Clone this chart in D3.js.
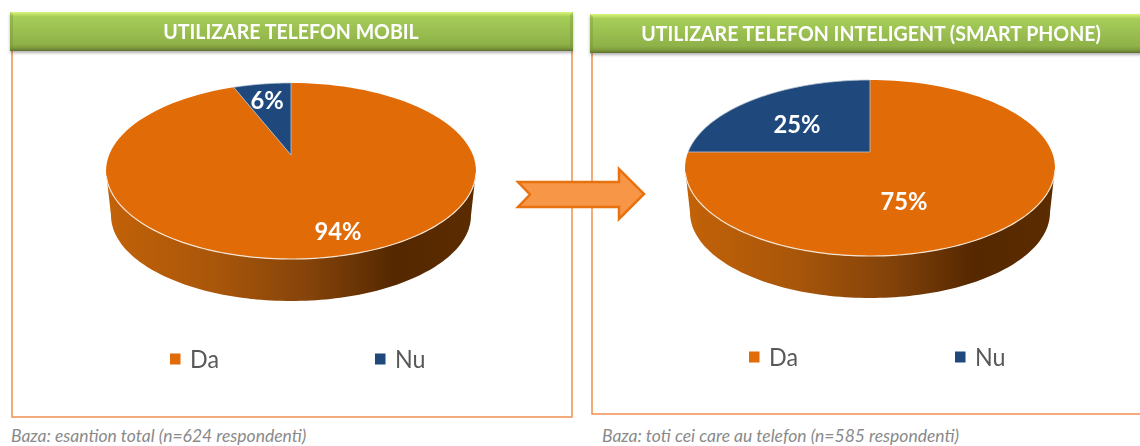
<!DOCTYPE html>
<html>
<head>
<meta charset="utf-8">
<script src="https://cdn.jsdelivr.net/npm/d3@7"></script>
<style>
  body { margin: 0; background: #fff; }
  text { font-family: Lato, "Open Sans", sans-serif; }
</style>
</head>
<body>
<div id="chart"></div>
<script>
// values
const categories = ["Da", "Nu"];
const mobileShares = [94, 6];
const smartShares = [75, 25];
const mobileTitle = "UTILIZARE TELEFON MOBIL";
const smartTitle = "UTILIZARE TELEFON INTELIGENT (SMART PHONE)";
const mobileNote = "Baza: esantion total (n=624 respondenti)";
const smartNote = "Baza: toti cei care au telefon (n=585 respondenti)";

const colors = d3.scaleOrdinal().domain(categories).range(["#e16b07", "#1f497d"]);

// layout of each panel, px
const panels = [
  {id: "mob", title: mobileTitle, note: mobileNote, shares: mobileShares,
   bar: [10, 12, 563, 39], frame: [12, 51, 572, 417], noteX: 11,
   cx: 291, apexY: 155, labels: [[338, 231], [267, 100]],
   legendY: 359, legendX: [170, 375]},
  {id: "smart", title: smartTitle, note: smartNote, shares: smartShares,
   bar: [590, 14, 560, 39], frame: [592, 53, 1160, 414], noteX: 602,
   cx: 870, apexY: 152, labels: [[904, 201], [797, 124]],
   legendY: 357, legendX: [749, 955]}
];

const svg = d3.select("#chart").append("svg")
    .attr("width", 1140)
    .attr("height", 446)
    .style("display", "block");

const defs = svg.append("defs");

const barGrad = defs.append("linearGradient").attr("id", "barGrad")
    .attr("x1", 0).attr("x2", 0).attr("y1", 0).attr("y2", 1);
barGrad.selectAll("stop")
    .data([[0, "#d9f57a"], [0.06, "#c0e268"], [0.12, "#a6cd58"], [0.82, "#8fb249"], [0.92, "#7f9c3d"], [1, "#5f7030"]])
    .join("stop")
    .attr("offset", d => d[0])
    .attr("stop-color", d => d[1]);

const shadow = defs.append("filter").attr("id", "barShadow")
    .attr("x", "-2%").attr("y", "-10%").attr("width", "104%").attr("height", "130%");
shadow.append("feDropShadow")
    .attr("dx", 0).attr("dy", 2).attr("stdDeviation", 1.5)
    .attr("flood-color", "#000").attr("flood-opacity", 0.3);

const soft = defs.append("filter").attr("id", "soft");
soft.append("feGaussianBlur").attr("stdDeviation", 0.35);

// perspective of the tilted disc: unit circle -> screen, relative to the apex
const pers = -0.1818, rxBase = 181.9, ryBase = 85.1;
function project(angle, scale) {
  const u = Math.sin(angle), v = -Math.cos(angle);
  const w = 1 + pers * v;
  return [scale * rxBase * u / w, scale * ryBase * v / w];
}

function arcPoints(a0, a1, scale) {
  return d3.range(0, 121).map(i => project(a0 + (a1 - a0) * i / 120, scale));
}

// Lato runs wider than the font in the picture, so narrow the glyphs a bit
function squeeze(sel, k) {
  sel.each(function() {
    d3.select(this)
        .attr("textLength", this.getComputedTextLength() * k)
        .attr("lengthAdjust", "spacingAndGlyphs");
  });
}

const line = d3.line();
const pie = d3.pie().sort(null);
const wallDrop = 44.8, wallScale = 0.973;

panels.forEach((p, idx) => {
  const g = svg.append("g").attr("class", "panel-" + p.id);
  const [fx0, fy0, fx1, fy1] = p.frame;

  g.append("path")
      .attr("d", `M${fx0},${fy0}V${fy1}H${fx1}V${fy0}`)
      .attr("fill", "none")
      .attr("stroke", "#ef9050")
      .attr("stroke-width", 1.5);

  const [bx, by, bw, bh] = p.bar;
  g.append("rect")
      .attr("x", bx).attr("y", by)
      .attr("width", bw).attr("height", bh)
      .attr("fill", "url(#barGrad)")
      .attr("filter", "url(#barShadow)");
  g.append("path")
      .attr("d", `M${bx},${by}l3,3v${bh - 6}l-3,3z`)
      .attr("fill", "#6f8f35").attr("opacity", 0.35);
  g.append("path")
      .attr("d", `M${bx + bw},${by}l-3,3v${bh - 6}l3,3z`)
      .attr("fill", "#6f8f35").attr("opacity", 0.35);
  g.append("text")
      .attr("x", p.cx + (idx ? 1 : 0))
      .attr("y", by + 19)
      .attr("dy", "0.35em")
      .attr("text-anchor", "middle")
      .attr("fill", "#fff")
      .attr("font-size", 21.5)
      .attr("font-weight", 700)
      .attr("filter", "url(#soft)")
      .text(p.title)
      .call(squeeze, 0.91);

  // side of the pie, gradient runs in page space
  const wallId = "wall" + idx;
  const wallGrad = defs.append("linearGradient").attr("id", wallId)
      .attr("gradientUnits", "userSpaceOnUse")
      .attr("x1", p.cx - 185).attr("x2", p.cx + 185).attr("y1", 0).attr("y2", 0);
  wallGrad.selectAll("stop")
      .data([[0, "#c36208"], [0.3, "#a8560a"], [0.55, "#84430a"], [0.78, "#552800"], [1, "#5c2c00"]])
      .join("stop")
      .attr("offset", d => d[0])
      .attr("stop-color", d => d[1]);

  // front rim between the two side-most points of the disc
  const rimStart = Math.PI / 2 + 0.183, rimEnd = 3 * Math.PI / 2 - 0.183;
  const topRim = arcPoints(rimStart, rimEnd, 1);
  const bottomRim = arcPoints(rimStart, rimEnd, wallScale)
      .map(d => [d[0], d[1] + wallDrop])
      .reverse();

  const disc = g.append("g").attr("transform", `translate(${p.cx},${p.apexY})`);
  g.insert("path", "g")
      .attr("d", line(topRim.concat(bottomRim).map(d => [d[0] + p.cx, d[1] + p.apexY])) + "Z")
      .attr("fill", `url(#${wallId})`);

  const arcs = pie(p.shares);
  disc.selectAll("path.slice")
      .data(arcs)
      .join("path")
      .attr("class", "slice")
      .attr("d", d => line([[0, 0]].concat(arcPoints(d.startAngle, d.endAngle, 1))) + "Z")
      .attr("fill", (d, i) => colors(categories[i]))
      .attr("stroke", (d, i) => i ? "#b9c4d2" : "none")
      .attr("stroke-width", 0.8);

  // light bevel along the front edge
  disc.append("path")
      .attr("d", line(arcPoints(rimStart + 0.02, rimEnd - 0.05, 1)))
      .attr("fill", "none")
      .attr("stroke", "#f6e4d2")
      .attr("stroke-width", 1.2);

  g.selectAll("text.value")
      .data(arcs)
      .join("text")
      .attr("class", "value")
      .attr("x", (d, i) => p.labels[i][0])
      .attr("y", (d, i) => p.labels[i][1])
      .attr("dy", "0.35em")
      .attr("text-anchor", "middle")
      .attr("fill", "#fff")
      .attr("font-size", 25)
      .attr("font-weight", 700)
      .attr("filter", "url(#soft)")
      .text(d => d.data + "%")
      .call(squeeze, 0.95);

  // legend
  const leg = g.selectAll("g.legend")
      .data(categories)
      .join("g")
      .attr("class", "legend")
      .attr("transform", (d, i) => `translate(${p.legendX[i]},${p.legendY})`);
  leg.append("rect")
      .attr("x", 0).attr("y", -5.5)
      .attr("width", 10.5).attr("height", 11)
      .attr("fill", d => colors(d));
  leg.append("text")
      .attr("x", 20)
      .attr("dy", "0.35em")
      .attr("fill", "#595959")
      .attr("font-size", 25)
      .attr("filter", "url(#soft)")
      .text(d => d)
      .call(squeeze, 0.93);

  g.append("text")
      .attr("x", p.noteX)
      .attr("y", 441.5)
      .attr("fill", "#8a8a8a")
      .attr("font-size", 17.5)
      .attr("font-style", "italic")
      .text(p.note);
});

// arrow between the panels
svg.append("path")
    .attr("d", "M518,182H619V169L644,194L619,219V207H518L530,194.5Z")
    .attr("fill", "#f79646")
    .attr("stroke", "#e8720f")
    .attr("stroke-width", 2.5)
    .attr("stroke-linejoin", "miter");
</script>
</body>
</html>
